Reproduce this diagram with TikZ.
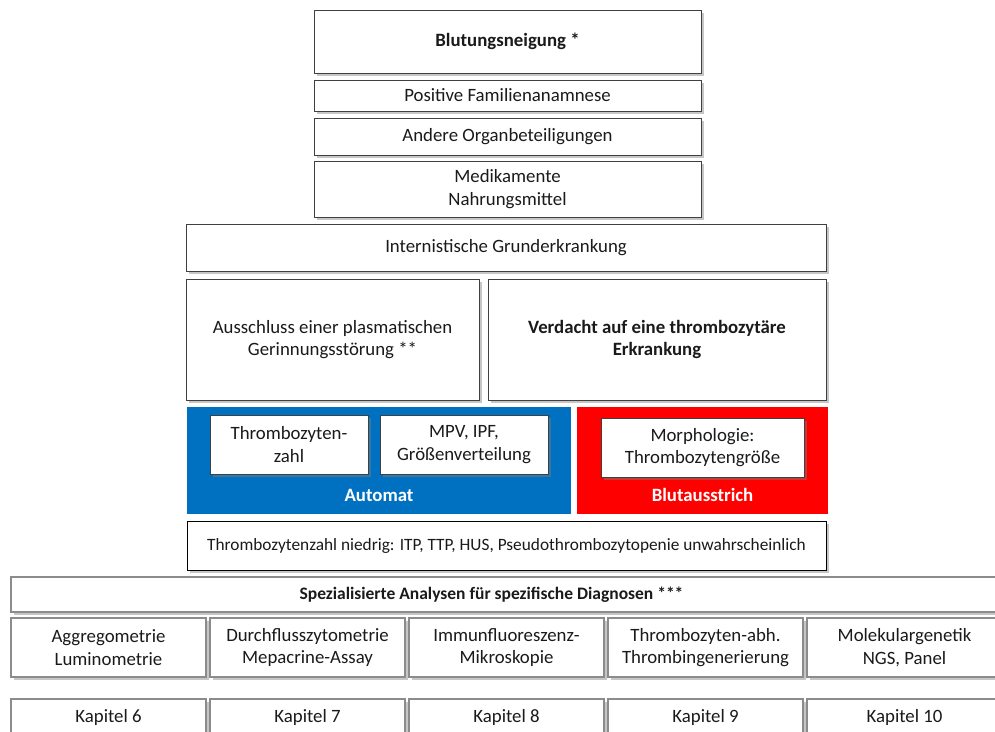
\documentclass[tikz,border=0pt]{standalone}
\usepackage{fontspec}
\setmainfont{Carlito}
\usetikzlibrary{shadows}

\definecolor{autoblue}{HTML}{0070C0}
\definecolor{smearred}{HTML}{FF0000}
\definecolor{darkline}{HTML}{404040}
\definecolor{greyline}{HTML}{8C8C8C}
\definecolor{txt}{HTML}{1A1A1A}

\tikzset{
	box/.style={draw=darkline, line width=1pt, fill=white, inner sep=0pt, align=center,
		text=txt, font=\fontsize{18.8}{22.5}\selectfont,
		drop shadow={shadow xshift=2.5pt, shadow yshift=-2.5pt, opacity=0.45}},
	greybox/.style={box, draw=greyline, line width=1.4pt},
	panel/.style={inner sep=0pt, font=\fontsize{18.8}{22.5}\selectfont\bfseries, text=white}
}

\begin{document}
\begin{tikzpicture}[x=1pt, y=-1pt]
	\useasboundingbox (0,0) rectangle (995,731);

	% Anamnese
	\node[box, minimum width=387, minimum height=63, font=\fontsize{18.8}{22.5}\selectfont\bfseries] (blutung) at (507.5,41.5) {Blutungsneigung *};
	\node[box, minimum width=387, minimum height=31] (familie) at (507.5,95.5) {Positive Familienanamnese};
	\node[box, minimum width=387, minimum height=37] (organ) at (507.5,136.5) {Andere Organbeteiligungen};
	\node[box, minimum width=387, minimum height=56] (medik) at (507.5,189) {Medikamente\\Nahrungsmittel};
	\node[box, minimum width=640, minimum height=47] (intern) at (506,247.5) {Internistische Grunderkrankung};
	\node[box, minimum width=293, minimum height=121] (ausschluss) at (332.5,339.5) {Ausschluss einer plasmatischen\\Gerinnungsstörung **};
	\node[box, minimum width=338, minimum height=121, font=\fontsize{18.8}{22.5}\selectfont\bfseries] (verdacht) at (657,339.5) {Verdacht auf eine thrombozytäre\\Erkrankung};

	% Automat und Blutausstrich
	\node[panel, fill=autoblue, minimum width=384, minimum height=107] (automat) at (379,460.5) {};
	\node[panel] (automatlbl) at (379,495) {Automat};
	\node[panel, fill=smearred, minimum width=251, minimum height=107] (ausstrich) at (702.5,460.5) {};
	\node[panel] (ausstrichlbl) at (702.5,495) {Blutausstrich};
	\node[box, minimum width=158, minimum height=59] (tzahl) at (289,444.5) {Thrombozyten-\\zahl};
	\node[box, minimum width=168, minimum height=59] (mpv) at (464,444.5) {MPV, IPF,\\Größenverteilung};
	\node[box, minimum width=203, minimum height=59] (morph) at (702.5,447.5) {Morphologie:\\Thrombozytengröße};

	\node[box, draw=black, minimum width=639, minimum height=49, drop shadow={opacity=0}, font=\fontsize{17.3}{21}\selectfont] (niedrig) at (506.5,545.5) {Thrombozytenzahl niedrig: ITP, TTP, HUS, Pseudothrombozytopenie unwahrscheinlich};

	% Spezialanalysen
	\node[greybox, minimum width=989, minimum height=35,
		label={[font=\fontsize{17.5}{21}\selectfont\bfseries, text=txt, xshift=-14pt]center:Spezialisierte Analysen für spezifische Diagnosen ***}] (spez) at (505.5,594.5) {};

	\foreach \i/\ana/\kap in {1/{Aggregometrie\\Luminometrie}/Kapitel 6,
			2/{Durchflusszytometrie\\Mepacrine-Assay}/Kapitel 7,
			3/{Immunfluoreszenz-\\Mikroskopie}/Kapitel 8,
			4/{Thrombozyten-abh.\\Thrombingenerierung}/Kapitel 9,
			5/{Molekulargenetik\\NGS, Panel}/Kapitel 10}
	{
		\node[greybox, minimum width=195, minimum height=59] (analyse\i) at ({108.5+199*(\i-1)},647.5) {\ana};
		\node[greybox, minimum width=195, minimum height=36] (kapitel\i) at ({108.5+199*(\i-1)},717) {\kap};
	}
\end{tikzpicture}
\end{document}
